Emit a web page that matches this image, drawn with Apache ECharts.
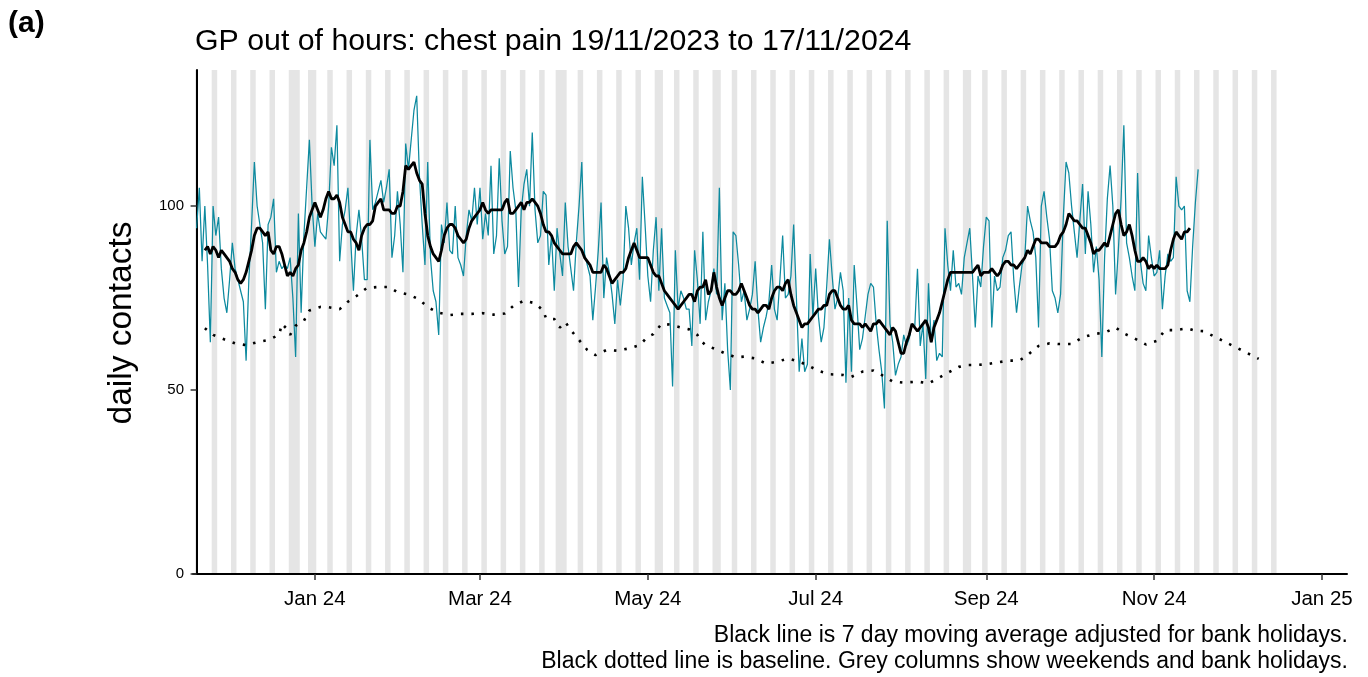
<!DOCTYPE html>
<html><head><meta charset="utf-8">
<script src="https://cdn.jsdelivr.net/npm/echarts@6/dist/echarts.min.js"></script>
<style>html,body{margin:0;padding:0;background:#fff}#c{width:1368px;height:677px}</style>
</head><body><div id="c"></div>
<script>
const startDate = '2023-11-19';
const dailyContacts = [
94,105,85,100,84,63,100,92,97,83,75,71,80,90,83,80,77,74,58,80,95,112,100,95,90,72,95,97,102,82,85,83,84,83,86,75,59,
98,71,92,105,118,100,89,98,93,92,91,100,116,111,122,85,95,99,105,91,77,92,99,91,80,80,118,99,101,104,107,101,105,110,86,92,104,
95,82,117,110,118,126,130,108,95,84,112,86,77,74,65,95,90,101,88,87,100,86,84,81,92,99,96,105,95,105,91,98,92,111,87,92,
113,96,87,89,115,105,99,78,99,106,110,100,120,99,90,92,104,103,84,92,77,94,87,81,101,89,83,77,90,100,112,87,84,81,69,78,88,
101,75,86,82,76,68,80,73,80,100,94,84,90,94,80,108,95,81,74,88,97,77,94,75,73,71,51,88,72,77,75,72,72,62,88,80,68,
93,69,74,77,83,76,105,69,79,61,50,93,92,84,74,77,69,72,76,85,72,63,67,70,74,84,72,69,80,92,75,76,81,95,75,55,
64,55,57,87,70,83,70,63,67,78,91,81,72,75,82,77,52,75,55,84,73,61,64,70,76,79,78,68,61,55,45,96,68,63,54,57,
59,65,62,64,68,67,83,62,68,53,79,63,69,58,60,59,94,84,77,88,78,79,76,86,90,94,81,67,81,78,89,97,96,67,81,77,
78,86,88,92,93,80,71,78,84,86,100,96,93,86,67,100,104,97,91,77,75,71,76,97,112,109,100,93,86,96,106,87,104,95,82,89,
80,59,86,102,111,100,76,88,102,122,90,86,81,77,109,85,79,77,92,86,81,82,88,72,81,87,85,86,108,100,99,100,77,74,89,101,110
];
const movingAverageFirstDay = 3;
const movingAverage = [
88,89,87,89,88,86,88,87,86,85,83,82,80,79,80,82,85,88,92,94,94,93,92,93,88,87,89,89,87,84,81,82,81,83,
84,88,90,93,97,99,101,99,97,99,102,104,102,102,103,101,97,95,93,93,91,90,88,92,94,95,95,96,100,101,102,99,99,99,98,98,100,
100,104,111,110,111,112,109,107,106,98,92,89,87,86,85,88,92,94,95,95,94,92,91,90,91,94,96,97,98,99,101,99,98,99,99,99,
99,99,101,102,98,98,99,100,101,99,101,101,102,101,100,98,95,93,93,92,90,89,88,87,87,87,87,89,90,89,88,86,85,84,82,82,82,
82,84,83,81,79,80,81,82,82,83,86,88,90,88,86,86,86,86,84,82,81,81,79,77,76,75,74,73,72,73,74,75,76,76,74,77,78,
78,80,76,77,82,78,75,73,75,77,77,76,76,77,79,77,75,73,72,72,71,72,73,73,72,75,77,78,78,77,79,80,76,73,71,69,
67,68,68,69,70,71,72,72,73,73,76,77,77,75,73,72,72,73,69,68,68,68,67,68,67,66,68,68,69,68,67,66,65,67,66,63,
60,60,63,65,68,67,66,67,68,69,67,63,67,69,71,74,77,80,82,82,82,82,82,82,82,82,82,83,84,81,82,82,82,83,82,81,
82,84,85,85,84,84,83,84,85,86,88,87,89,91,91,90,90,90,89,89,89,90,92,93,95,98,97,96,96,95,94,94,92,90,87,88,
88,89,90,89,92,95,98,99,95,92,93,95,92,88,85,85,86,85,83,84,83,84,83,83,83,84,88,91,93,92,91,93,93,94
];
const baselineDays = [3,6,10,14,18,22,26,30,31,33,34,36,39,41,45,48,52,55,58,62,66,70,73,77,81,84,88,92,96,100,104,108,112,115,119,123,126,127,130,132,134,136,139,142,145,149,153,157,161,164,166,169,172,176,179,182,183,185,188,192,196,199,203,207,211,215,219,222,226,230,235,238,242,246,249,253,257,262,266,270,273,277,280,283,287,291,295,299,302,306,310,313,318,322,326,330,334,337,341,345,349,352,356,360,363,366,370,374,378,382,386];
const baselineValues = [66.8,65,63.8,62.7,62.2,63,63.6,65,68,66.5,65,67.5,68.8,71.6,72.6,72.5,72,74,75.5,77.8,78,78,76.6,76,74.6,72.5,71,70.4,70.7,70.7,70.9,70.5,70.8,72.8,74.3,73.6,71.6,69.5,69.3,67,68.5,66.3,63.6,60.9,59.5,60.9,60.7,61.3,62.2,64.5,65.2,68,67.8,67,66.5,65,63.6,62.2,61.3,60,58.9,59.1,58.6,57.2,57.7,58.6,57.7,56.8,55.2,54.3,54.1,53.6,55,55.3,54.1,52.3,52,52.3,51.8,53.4,54.7,56.3,56.8,56.8,57,57.5,58,58,59.5,62,62.7,62.5,62.5,64.3,65.2,65.6,67,65.4,64,62.4,63.4,66.3,66.3,66.8,66.1,66,64.5,63,61.5,60,58.5];
const bankHolidays = ['2023-12-25','2023-12-26','2024-01-01','2024-03-29','2024-04-01','2024-05-06','2024-05-27','2024-08-26'];
const shadeLastDate = '2024-12-15';
const xTickDates = ['2024-01-01','2024-03-01','2024-05-01','2024-07-01','2024-09-01','2024-11-01','2025-01-01'];
const xTickLabels = ['Jan 24','Mar 24','May 24','Jul 24','Sep 24','Nov 24','Jan 25'];
const yTicks = [0,50,100];
const titleText = 'GP out of hours: chest pain 19/11/2023 to 17/11/2024';
const panelLabel = '(a)';
const yAxisTitle = 'daily contacts';
const captionLines = ['Black line is 7 day moving average adjusted for bank holidays.','Black dotted line is baseline. Grey columns show weekends and bank holidays.'];

const DAY = 86400000;
const ts = s => Date.parse(s + 'T00:00:00Z');
const T0 = ts(startDate);
const dayOf = s => Math.round((ts(s) - T0) / DAY);

const dailyData = dailyContacts.map((v, i) => [i, v]);
const maData = movingAverage.map((v, i) => [i + movingAverageFirstDay, v]);
const baseData = baselineDays.map((d, i) => [d, baselineValues[i]]);

// shaded days: weekends + bank holidays, merged into runs
const bh = new Set(bankHolidays.map(dayOf));
const lastShade = dayOf(shadeLastDate);
const runs = [];
let cur = null;
for (let d = 0; d <= lastShade; d++) {
  const wd = new Date(T0 + d * DAY).getUTCDay();
  const shaded = wd === 0 || wd === 6 || bh.has(d);
  if (shaded) {
    if (cur && cur[1] === d - 1) cur[1] = d; else { cur = [d, d]; runs.push(cur); }
  }
}
const shadeData = runs.map(r => [r[0] - 0.5, r[1] + 0.5]);

const FONT = '"Liberation Sans", Arial, sans-serif';
const xTickDays = xTickDates.map(dayOf);

const chart = echarts.init(document.getElementById('c'), null, {renderer: 'canvas'});
chart.setOption({
  animation: false,
  backgroundColor: '#ffffff',
  grid: {left: 193, right: 21, top: 70, bottom: 103, containLabel: false},
  xAxis: {
    type: 'value',
    min: -1.3, max: 418.1,
    axisLine: {show: true, lineStyle: {color: '#000', width: 2}},
    axisTick: {show: true, length: 6, lineStyle: {color: '#333', width: 1.5}, customValues: xTickDays},
    axisLabel: {
      customValues: xTickDays, margin: 15, fontFamily: FONT, fontSize: 20.5, color: '#000',
      formatter: v => { const i = xTickDays.indexOf(Math.round(v)); return i >= 0 ? xTickLabels[i] : ''; }
    },
    splitLine: {show: false}
  },
  yAxis: {
    type: 'value', min: 0, max: 137,
    axisLine: {show: true, lineStyle: {color: '#000', width: 2}},
    axisTick: {show: true, length: 6, lineStyle: {color: '#333', width: 1.5}, customValues: yTicks},
    axisLabel: {customValues: yTicks, margin: 9, fontFamily: FONT, fontSize: 15, color: '#000'},
    splitLine: {show: false}
  },
  series: [
    {
      type: 'custom', z: 0, silent: true,
      data: shadeData,
      encode: {x: [0, 1]},
      renderItem: function (params, api) {
        const a = api.coord([api.value(0), 0]);
        const b = api.coord([api.value(1), 0]);
        const cs = params.coordSys;
        return {type: 'rect', shape: {x: a[0], y: cs.y, width: b[0] - a[0], height: cs.height}, style: {fill: '#e5e5e5'}};
      }
    },
    {type: 'line', z: 2, data: dailyData, showSymbol: false, symbol: 'none', lineStyle: {color: '#0d8a9f', width: 1.25}},
    {type: 'line', z: 3, data: baseData, showSymbol: false, symbol: 'none', lineStyle: {color: '#000', width: 2.6, type: [2.5, 8]}},
    {type: 'line', z: 4, data: maData, showSymbol: false, symbol: 'none', lineStyle: {color: '#000', width: 2.8}}
  ],
  graphic: [
    {type: 'text', left: 8, top: 9, style: {text: panelLabel, font: 'bold 30px ' + FONT, fill: '#000'}},
    {type: 'text', left: 195, top: 27, style: {text: titleText, font: '30.3px ' + FONT, fill: '#000'}},
    {type: 'text', x: 122, y: 323, rotation: Math.PI / 2, style: {text: yAxisTitle, font: '33.5px ' + FONT, fill: '#000', align: 'center', verticalAlign: 'middle'}},
    {type: 'text', x: 1348, y: 636, style: {text: captionLines[0], font: '23px ' + FONT, fill: '#000', align: 'right', verticalAlign: 'middle'}},
    {type: 'text', x: 1348, y: 662, style: {text: captionLines[1], font: '23px ' + FONT, fill: '#000', align: 'right', verticalAlign: 'middle'}}
  ]
});
</script>
</body></html>
